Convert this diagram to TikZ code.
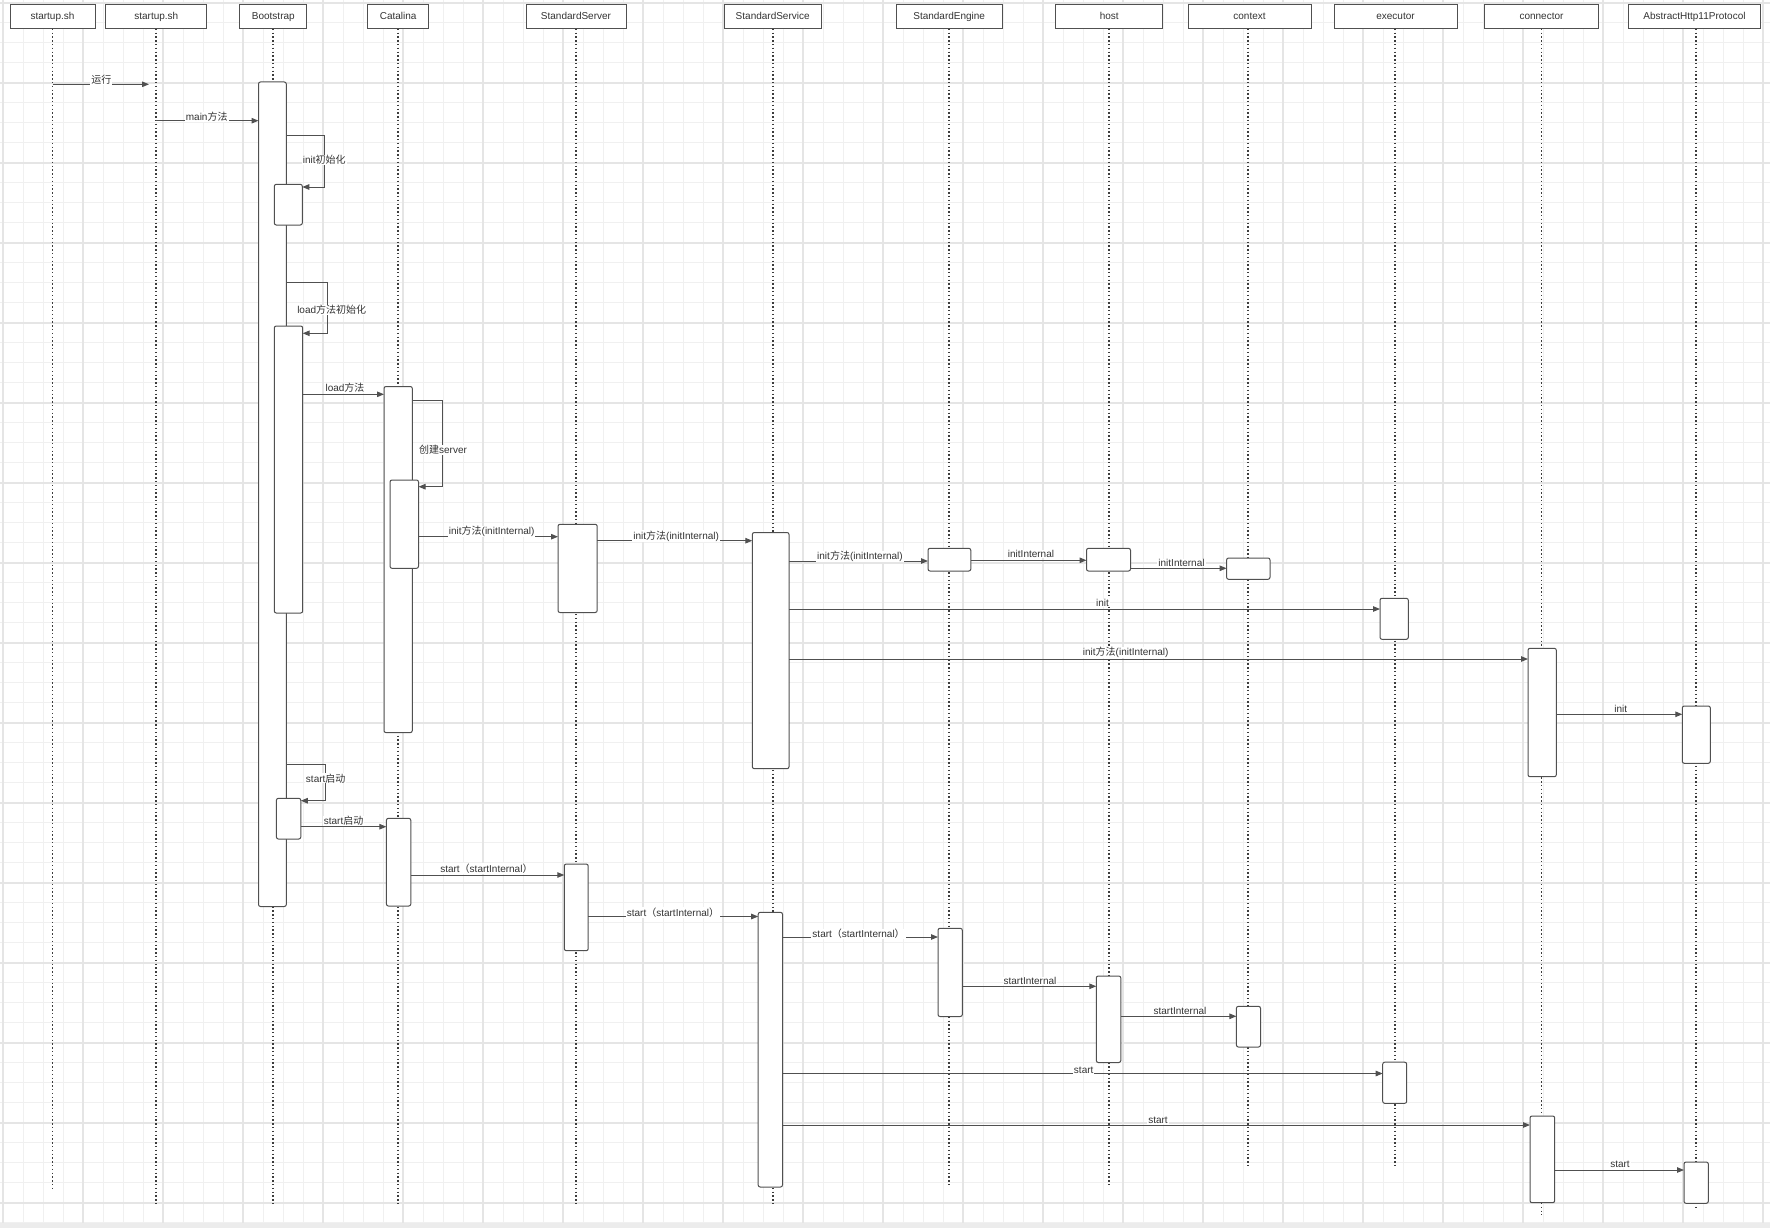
\documentclass[tikz,border=0pt]{standalone}
\usepackage{fontspec}
\setmainfont{Liberation Sans}
\newfontfamily\cjk{Noto Sans CJK SC}
\usetikzlibrary{arrows.meta}
\definecolor{ink}{HTML}{333333}
\definecolor{edge}{HTML}{505050}
\definecolor{lifegray}{HTML}{3C3C3C}
\definecolor{gridlo}{HTML}{F0F0F0}
\definecolor{gridhi}{HTML}{E5E5E5}
\definecolor{stripgray}{HTML}{ECECEC}
% activation bar: name, left, top, right, bottom
\newcommand\actbox[5]{\node[act, minimum width={#4-#2}, minimum height={#5-#3}] (#1) at (#2,#3) {};}
\begin{document}
\begin{tikzpicture}[x=1pt,y=-1pt,
  gminor/.style={draw=gridlo, line width=1.3pt},
  gmajor/.style={draw=gridhi, line width=2pt},
  hdr/.style={draw=edge, fill=white, line width=0.9pt, minimum height=24pt, inner sep=0pt, text=ink,
    text height=8.6pt, text depth=1.2pt, font=\fontsize{10}{12}\selectfont},
  life/.style={draw=lifegray, line width=1.7pt, dash pattern=on 1.5pt off 2.3pt},
  act/.style={draw=edge, fill=white, line width=1pt, rounded corners=2pt, inner sep=0pt, outer sep=0pt, anchor=north west},
  msg/.style={draw=edge, line width=1pt, -{Triangle[length=7pt,width=5.5pt]}},
  lbl/.style={fill=white, text=ink, inner xsep=1pt, inner ysep=0.5pt, font=\fontsize{10}{12}\selectfont},
]
\useasboundingbox (0,0) rectangle (1770,1228);
\fill[white] (0,0) rectangle (1770,1228);

% background grid
\foreach \i in {0,...,88} \draw[gminor] ({3.3+20*\i},0) -- ({3.3+20*\i},1223);
\foreach \j in {0,...,61} \draw[gminor] (0,{2.7+20*\j}) -- (1770,{2.7+20*\j});
\foreach \i in {0,...,22} \draw[gmajor] ({3.3+80*\i},0) -- ({3.3+80*\i},1223);
\foreach \j in {0,...,15} \draw[gmajor] (0,{2.7+80*\j}) -- (1770,{2.7+80*\j});
\fill[stripgray] (0,1223) rectangle (1770,1228);

% participants
\node[hdr, minimum width=85pt]  (h1)  at (52.5,16.3)   {startup.sh};
\node[hdr, minimum width=101pt] (h2)  at (156.3,16.3)  {startup.sh};
\node[hdr, minimum width=67pt]  (h3)  at (273.3,16.3)  {Bootstrap};
\node[hdr, minimum width=61pt]  (h4)  at (398.2,16.3)  {Catalina};
\node[hdr, minimum width=100pt] (h5)  at (576,16.3)    {StandardServer};
\node[hdr, minimum width=97pt]  (h6)  at (772.7,16.3)  {StandardService};
\node[hdr, minimum width=106pt] (h7)  at (949.2,16.3)  {StandardEngine};
\node[hdr, minimum width=107pt] (h8)  at (1109.2,16.3) {host};
\node[hdr, minimum width=123pt] (h9)  at (1249.5,16.3) {context};
\node[hdr, minimum width=123pt] (h10) at (1395.5,16.3) {executor};
\node[hdr, minimum width=114pt] (h11) at (1541.5,16.3) {connector};
\node[hdr, minimum width=132pt] (h12) at (1694.5,16.3) {AbstractHttp11Protocol};

% lifeline ends
\coordinate (e1)  at (52.5,1190);
\coordinate (e2)  at (156.3,1205);
\coordinate (e3)  at (273.3,1205);
\coordinate (e4)  at (398.2,1205);
\coordinate (e5)  at (576,1205);
\coordinate (e6)  at (772.7,1204);
\coordinate (e7)  at (949.2,1186);
\coordinate (e8)  at (1109.2,1185);
\coordinate (e9)  at (1248.3,1167);
\coordinate (e10) at (1395.2,1166);
\coordinate (e11) at (1541.5,1215);
\coordinate (e12) at (1695.8,1207);

\draw[life] (h1.south) -- (e1);
\draw[life] (h2.south) -- (e2);
\draw[life] (h3.south) -- (e3);
\draw[life] (h4.south) -- (e4);
\draw[life] (h5.south) -- (e5);
\draw[life] (h6.south) -- (e6);
\draw[life] (h7.south) -- (e7);
\draw[life] (h8.south) -- (e8);
\draw[life] (h9.south -| e9) -- (e9);
\draw[life] (h10.south -| e10) -- (e10);
\draw[life] (h11.south) -- (e11);
\draw[life] (h12.south -| e12) -- (e12);

% activation bars
\actbox{bootA}{258.5}{82}{286.3}{906.5}
\actbox{bootInit}{274.3}{184.3}{302.3}{225}
\actbox{bootLoad}{274.3}{326}{302.7}{613}
\actbox{bootStart}{276.4}{798.3}{300.8}{839}
\actbox{catA}{384}{386.5}{412.3}{732.6}
\actbox{catSub}{390}{480}{418.5}{568.3}
\actbox{catB}{386.4}{818.3}{410.8}{906}
\actbox{srvA}{558}{524.3}{597.2}{612.5}
\actbox{srvB}{564.3}{864}{588.2}{950.7}
\actbox{svcA}{752.3}{532.5}{789}{768.7}
\actbox{svcB}{758.2}{912.3}{782.5}{1187}
\actbox{engA}{928}{548.3}{970.8}{571}
\actbox{engB}{938}{928.3}{962.3}{1016.5}
\actbox{hostA}{1086.5}{548.3}{1130.5}{571}
\actbox{hostB}{1096.3}{976}{1120.8}{1062.5}
\actbox{ctxA}{1226.6}{558}{1270}{579.3}
\actbox{ctxB}{1236.4}{1006.3}{1260.5}{1047}
\actbox{exeA}{1380}{598.3}{1408.3}{639.3}
\actbox{exeB}{1382.7}{1062.2}{1406.7}{1103.3}
\actbox{conA}{1528}{648.3}{1556.3}{776.7}
\actbox{conB}{1530}{1116}{1554.7}{1202.7}
\actbox{absA}{1682.3}{706}{1710.3}{763.3}
\actbox{absB}{1684}{1162}{1708.3}{1203.3}

% messages
\coordinate (runEnd) at (149,84.3);
\draw[msg] (h1.south |- 0,84.3) -- (runEnd);
\node[lbl] (l1) at (101.4,80) {{\cjk 运行}};

\draw[msg] (h2.south |- 0,120.7) -- (bootA.west |- 0,120.7);
\node[lbl] (l2) at (206.7,116.7) {main{\cjk 方法}};

\draw[msg] (bootA.east |- 0,136) -- ++(38,0) |- (bootInit.east |- 0,187);
\node[lbl] (l3) at (324.3,160) {init{\cjk 初始化}};

\draw[msg] (bootA.east |- 0,282.3) -- ++(41,0) |- (bootLoad.east |- 0,333.3);
\node[lbl] (l4) at (331.7,310) {load{\cjk 方法初始化}};

\draw[msg] (bootLoad.east |- 0,394.3) -- (catA.west |- 0,394.3);
\node[lbl] (l5) at (345,387.7) {load{\cjk 方法}};

\draw[msg] (catA.east |- 0,400) -- ++(30.4,0) |- (catSub.east |- 0,486.7);
\node[lbl] (l6) at (443,450) {{\cjk 创建}server};

\draw[msg] (catSub.east |- 0,536.7) -- (srvA.west |- 0,536.7);
\node[lbl] (l7) at (491.7,531.7) {init{\cjk 方法}(initInternal)};

\draw[msg] (srvA.east |- 0,540.7) -- (svcA.west |- 0,540.7);
\node[lbl] (l8) at (676.2,536) {init{\cjk 方法}(initInternal)};

\draw[msg] (svcA.east |- 0,561) -- (engA.west |- 0,561);
\node[lbl] (l9) at (860,556.7) {init{\cjk 方法}(initInternal)};

\draw[msg] (engA.east |- 0,560.3) -- (hostA.west |- 0,560.3);
\node[lbl] (l10) at (1031,554.3) {initInternal};

\draw[msg] (hostA.east |- 0,568.3) -- (ctxA.west |- 0,568.3);
\node[lbl] (l11) at (1181.5,562.7) {initInternal};

\draw[msg] (svcA.east |- 0,609) -- (exeA.west |- 0,609);
\node[lbl] (l12) at (1102.5,602.7) {init};

\draw[msg] (svcA.east |- 0,659) -- (conA.west |- 0,659);
\node[lbl] (l13) at (1125.7,652.7) {init{\cjk 方法}(initInternal)};

\draw[msg] (conA.east |- 0,714.3) -- (absA.west |- 0,714.3);
\node[lbl] (l14) at (1620.7,708.7) {init};

\draw[msg] (bootA.east |- 0,764) -- ++(39.4,0) |- (bootStart.east |- 0,800.7);
\node[lbl] (l15) at (325.7,778.3) {start{\cjk 启动}};

\draw[msg] (bootStart.east |- 0,826.7) -- (catB.west |- 0,826.7);
\node[lbl] (l16) at (343.6,820.7) {start{\cjk 启动}};

\draw[msg] (catB.east |- 0,875) -- (srvB.west |- 0,875);
\node[lbl] (l17) at (486.4,868.3) {start{\cjk （}startInternal{\cjk ）}};

\draw[msg] (srvB.east |- 0,916.5) -- (svcB.west |- 0,916.5);
\node[lbl] (l18) at (673,912.5) {start{\cjk （}startInternal{\cjk ）}};

\draw[msg] (svcB.east |- 0,937) -- (engB.west |- 0,937);
\node[lbl] (l19) at (858.6,934) {start{\cjk （}startInternal{\cjk ）}};

\draw[msg] (engB.east |- 0,986.3) -- (hostB.west |- 0,986.3);
\node[lbl] (l20) at (1030,980.7) {startInternal};

\draw[msg] (hostB.east |- 0,1016.3) -- (ctxB.west |- 0,1016.3);
\node[lbl] (l21) at (1180,1010.7) {startInternal};

\draw[msg] (svcB.east |- 0,1073.5) -- (exeB.west |- 0,1073.5);
\node[lbl] (l22) at (1083.7,1070.2) {start};

\draw[msg] (svcB.east |- 0,1125) -- (conB.west |- 0,1125);
\node[lbl] (l23) at (1158,1120.7) {start};

\draw[msg] (conB.east |- 0,1170) -- (absB.west |- 0,1170);
\node[lbl] (l24) at (1620,1164.7) {start};
\end{tikzpicture}
\end{document}
